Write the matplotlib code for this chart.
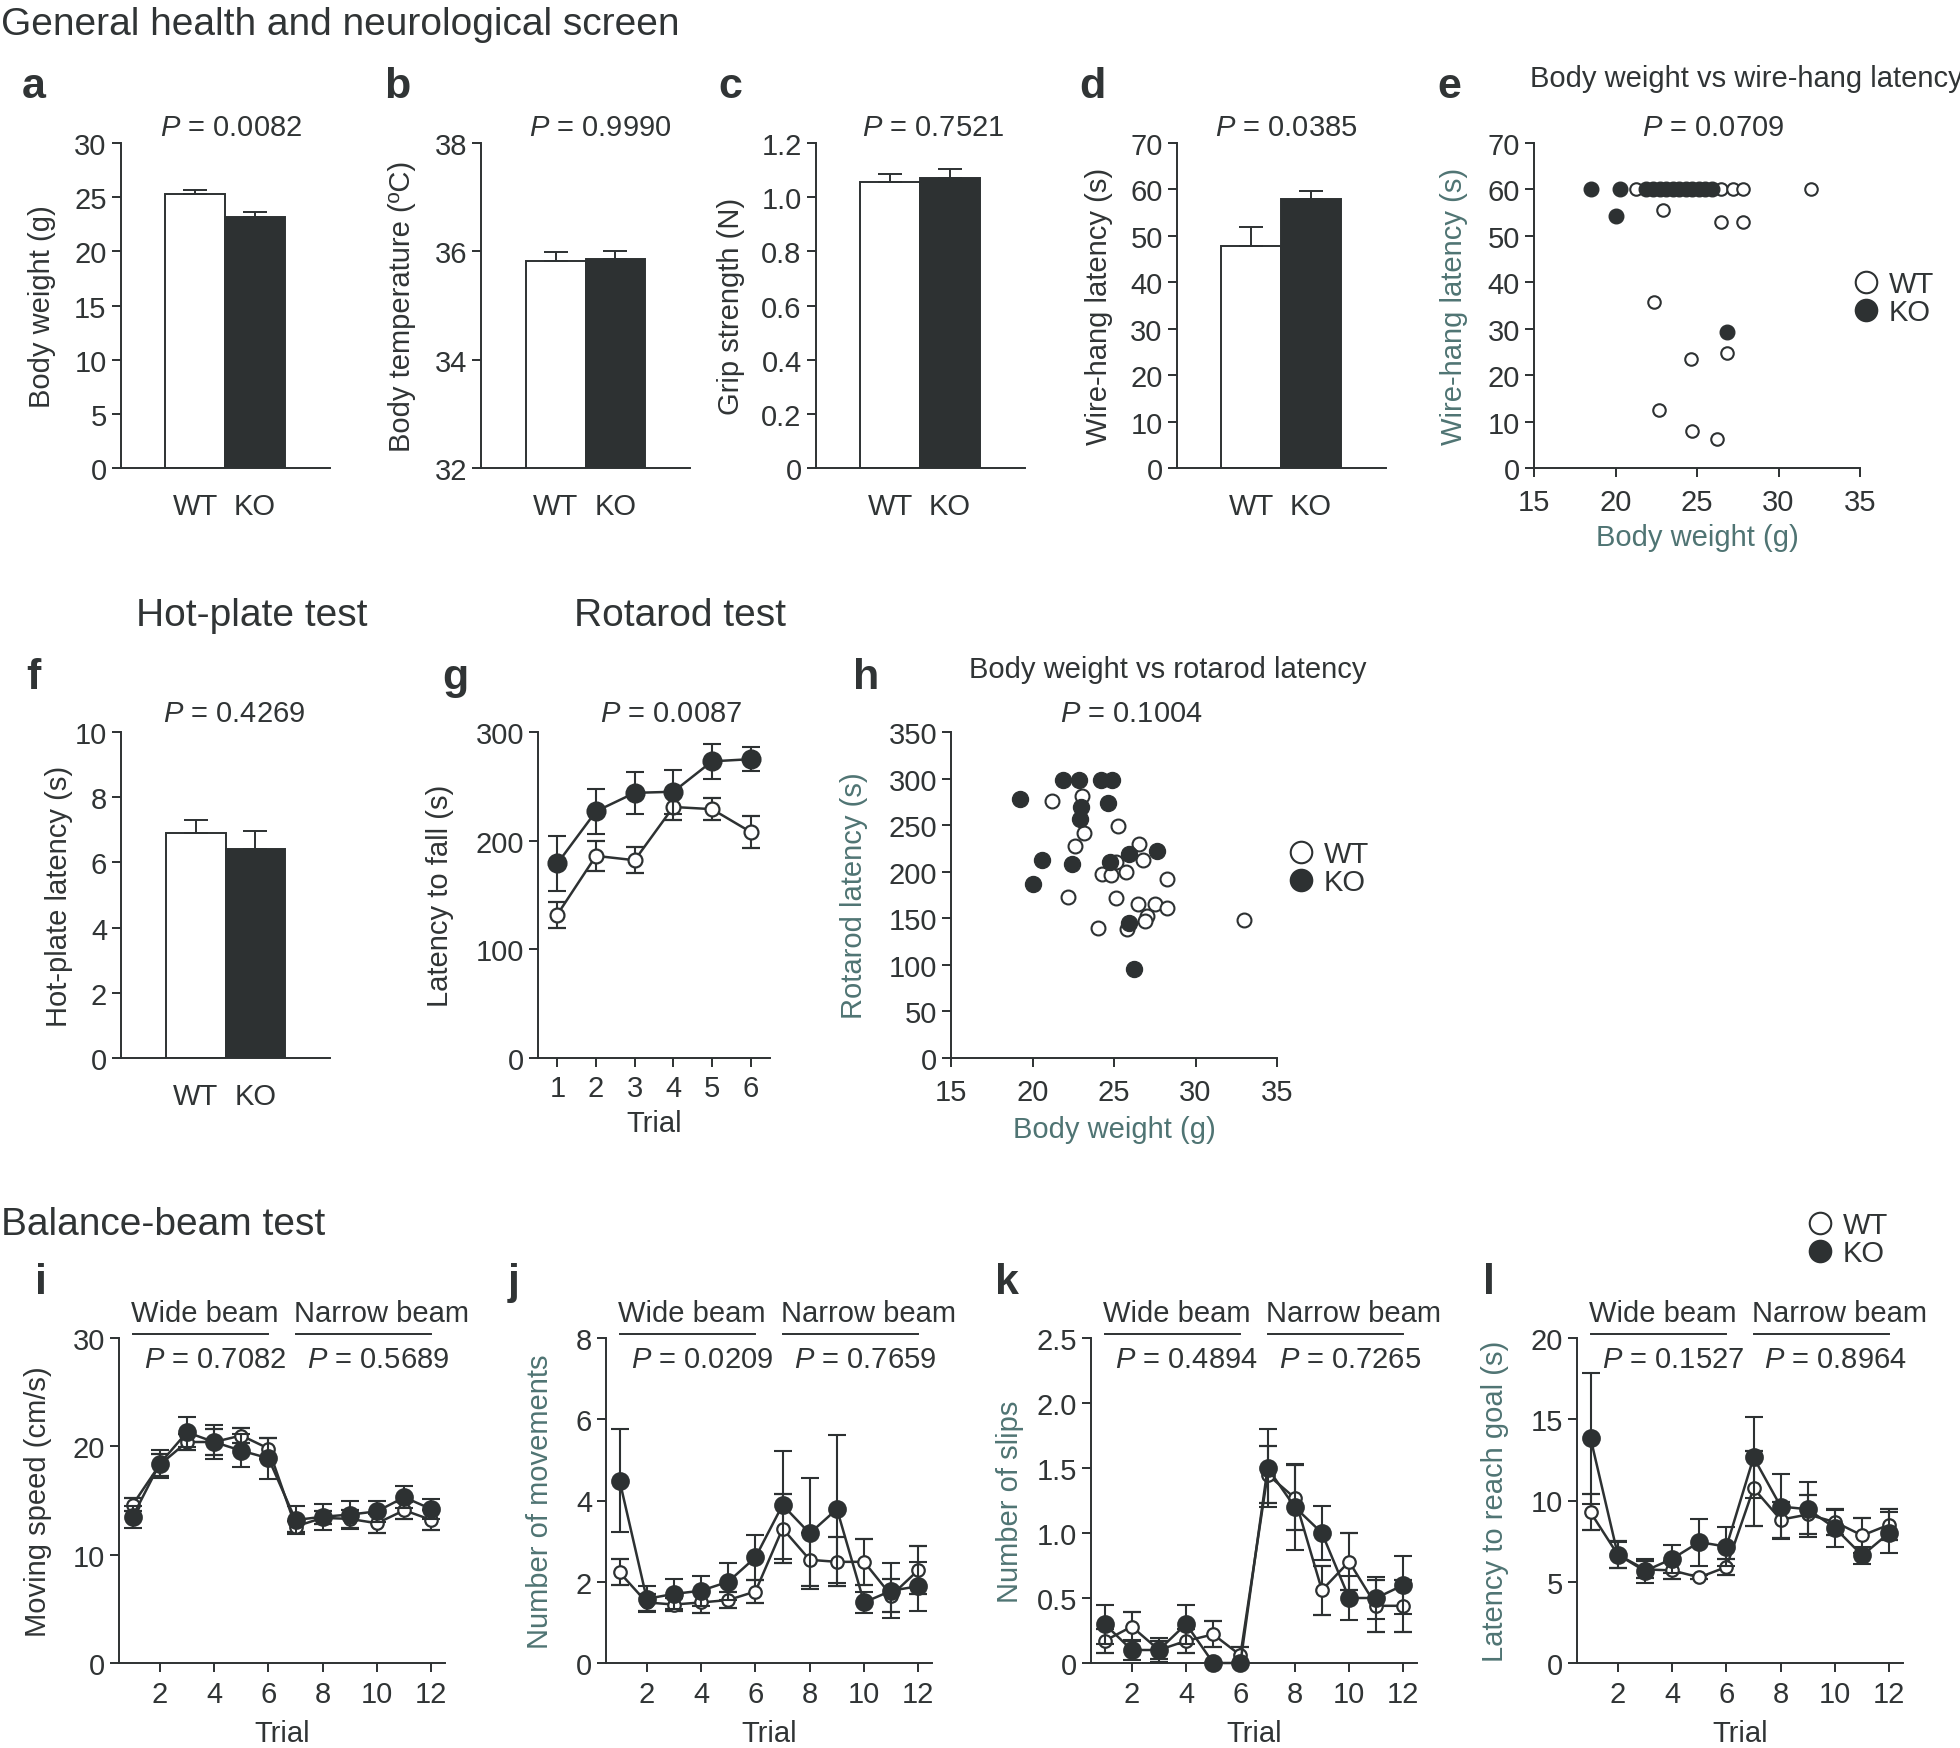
"""Multi-panel figure: general health, hot-plate, rotarod and balance-beam tests (WT vs KO)."""

import matplotlib
import numpy as np

matplotlib.use("Agg")
import matplotlib.pyplot as plt
from matplotlib.lines import Line2D

W, H = 1960, 1749
DARK = "#2d3132"
TEXT = "#303435"
TEAL = "#4f7473"
FS = 21

GROUPS = ["WT", "KO"]

# bar panels: mean and upper s.e.m. (WT, KO)
body_weight = [25.25, 23.2]
body_weight_err = [0.45, 0.45]
body_temp = [35.83, 35.86]
body_temp_err = [0.16, 0.14]
grip = [1.055, 1.07]
grip_err = [0.03, 0.035]
wire_hang = [47.9, 57.9]
wire_hang_err = [4.1, 1.7]
hot_plate = [6.9, 6.4]
hot_plate_err = [0.4, 0.55]

# body weight vs wire-hang latency (individual mice)
wt_weight_e = [21.25, 22.3, 23.5, 24.7, 26.45, 27.2, 27.85, 32.0, 22.9, 26.5, 27.85,
               22.35, 24.65, 26.85, 22.65, 24.7, 26.25]
wt_hang_e = [60, 60, 60, 60, 60, 60, 60, 60, 55.6, 52.9, 52.9, 35.7, 23.5, 24.8, 12.6, 7.9, 6.2]
ko_weight_e = [18.5, 20.3, 21.9, 22.3, 22.7, 23.1, 23.5, 23.9, 24.3, 24.7, 25.1, 25.5, 25.9,
               20.05, 26.85]
ko_hang_e = [60, 60, 60, 60, 60, 60, 60, 60, 60, 60, 60, 60, 60, 54.2, 29.3]

# rotarod
rotarod_trials = [1, 2, 3, 4, 5, 6]
rotarod_wt = [132, 186, 182, 231, 229, 208]
rotarod_wt_err = [12, 14, 12, 12, 10, 15]
rotarod_ko = [179, 227, 244, 245, 273, 275]
rotarod_ko_err = [25, 21, 19, 20, 16, 11]

# body weight vs rotarod latency
wt_weight_h = [21.18, 23.02, 23.19, 22.62, 22.2, 25.26, 26.53, 26.79, 25.14, 24.25, 24.82,
               25.73, 28.23, 25.1, 26.49, 27.49, 28.23, 27.0, 26.92, 25.79, 23.99, 32.99]
wt_rotarod_h = [276, 281, 242, 228, 173, 249, 230, 213, 210, 198, 196,
                200, 192, 172, 165, 165, 161, 152, 147, 138, 140, 148]
ko_weight_h = [19.23, 20.06, 20.61, 21.88, 22.87, 22.98, 22.92, 22.41, 24.2, 24.88, 24.63,
               24.74, 25.9, 27.63, 25.9, 26.22]
ko_rotarod_h = [278, 187, 213, 299, 299, 269, 257, 208, 299, 299, 274,
                210, 219, 222, 145, 96]

# balance beam, trials 1-6 wide beam, 7-12 narrow beam
beam_trials = list(range(1, 13))
speed_wt = [14.6, 18.3, 20.4, 20.4, 21.0, 19.8, 12.6, 13.4, 13.3, 12.9, 14.1, 13.2]
speed_wt_err = [0.6, 1.0, 0.7, 1.2, 0.7, 1.0, 0.5, 0.6, 0.8, 0.9, 0.8, 0.9]
speed_ko = [13.5, 18.4, 21.3, 20.4, 19.6, 18.9, 13.2, 13.5, 13.7, 14.0, 15.3, 14.2]
speed_ko_err = [1.0, 1.3, 1.4, 1.6, 1.5, 1.9, 1.3, 1.2, 1.3, 1.0, 1.0, 0.9]

moves_wt = [2.23, 1.49, 1.44, 1.49, 1.55, 1.76, 3.31, 2.54, 2.49, 2.49, 1.66, 2.29]
moves_wt_err = [0.32, 0.2, 0.15, 0.26, 0.2, 0.28, 0.85, 0.65, 0.6, 0.56, 0.4, 0.6]
moves_ko = [4.49, 1.58, 1.70, 1.78, 2.0, 2.6, 3.89, 3.19, 3.79, 1.49, 1.78, 1.89]
moves_ko_err = [1.27, 0.32, 0.38, 0.37, 0.46, 0.56, 1.32, 1.36, 1.83, 0.26, 0.67, 0.6]

slips_wt = [0.17, 0.28, 0.10, 0.17, 0.22, 0.06, 1.45, 1.27, 0.56, 0.78, 0.44, 0.44]
slips_wt_err = [0.09, 0.11, 0.07, 0.09, 0.1, 0.06, 0.22, 0.25, 0.19, 0.22, 0.2, 0.2]
slips_ko = [0.30, 0.10, 0.10, 0.30, 0.0, 0.0, 1.50, 1.20, 1.00, 0.50, 0.50, 0.60]
slips_ko_err = [0.15, 0.08, 0.09, 0.15, 0.0, 0.0, 0.3, 0.33, 0.21, 0.17, 0.16, 0.22]

goal_wt = [9.27, 6.67, 5.76, 5.70, 5.27, 5.91, 10.75, 8.82, 9.14, 8.67, 7.85, 8.52]
goal_wt_err = [1.1, 0.85, 0.5, 0.55, 0.12, 0.5, 2.3, 1.1, 1.2, 0.8, 1.07, 0.96]
goal_ko = [13.83, 6.67, 5.66, 6.41, 7.44, 7.16, 12.65, 9.63, 9.46, 8.3, 6.62, 8.02]
goal_ko_err = [4.04, 0.8, 0.76, 0.86, 1.44, 1.18, 2.5, 2.0, 1.68, 1.14, 0.53, 1.25]

BEAM_BLOCKS = [("Wide beam", 1, 6), ("Narrow beam", 7, 12)]

plt.rcParams["font.family"] = ["Liberation Sans", "DejaVu Sans"]
plt.rcParams["mathtext.fontset"] = "custom"
plt.rcParams["mathtext.rm"] = "Liberation Sans"
plt.rcParams["mathtext.it"] = "Liberation Sans:italic"
plt.rcParams["font.size"] = FS
plt.rcParams["text.color"] = TEXT
plt.rcParams["axes.labelcolor"] = TEXT

fig = plt.figure(figsize=(W / 100, H / 100), dpi=100)


def add_axes(x0, y0, x1, y1):
    return fig.add_axes([x0 / W, 1 - y1 / H, (x1 - x0) / W, (y1 - y0) / H])


def ftext(x, y, s, **kw):
    fig.text(x / W, 1 - y / H, s, **kw)


def style(ax, ylabel, ylabel_off, ycolor=TEXT, xpad=3.5):
    for side in ("top", "right"):
        ax.spines[side].set_visible(False)
    for side in ("left", "bottom"):
        ax.spines[side].set_linewidth(1.4)
        ax.spines[side].set_color(DARK)
    ax.tick_params(direction="out", length=6.5, width=1.4, color=DARK,
                   labelcolor=TEXT, labelsize=FS, pad=3.5)
    ax.tick_params(axis="x", pad=xpad)
    ax.set_ylabel(ylabel, color=ycolor, fontsize=FS)
    ax.yaxis.label.set_va("center")
    w_px = ax.get_position().width * W
    ax.yaxis.set_label_coords(-ylabel_off / w_px, 0.5)


def set_xlabel(ax, text, off, color=TEXT):
    ax.set_xlabel(text, color=color, fontsize=FS)
    ax.xaxis.label.set_va("center")
    h_px = ax.get_position().height * H
    ax.xaxis.set_label_coords(0.5, -off / h_px)


def bar_panel(ax, vals, errs, ylim, yticks, yticklabels, ylabel, ylabel_off):
    xs = np.arange(len(GROUPS))
    ax.bar(xs, vals, width=1.0, color=["white", DARK], edgecolor=DARK, linewidth=1.4)
    ax.errorbar(xs, vals, yerr=[[0, 0], errs], fmt="none", ecolor=DARK,
                elinewidth=1.4, capsize=8.5, capthick=1.4)
    ax.set_xlim(-1.25, 2.25)
    ax.set_ylim(*ylim)
    style(ax, ylabel, ylabel_off)
    ax.set_yticks(yticks, yticklabels)
    ax.set_xticks(xs, GROUPS)
    ax.tick_params(axis="x", length=0, pad=17.5)


def unclip(cont):
    arts = [cont.lines[0], *cont.lines[1], *cont.lines[2]]
    for art in arts:
        if art is not None:
            art.set_clip_on(False)


def line_panel(ax, x, wt, wt_err, ko, ko_err, ms_wt, ms_ko):
    c1 = ax.errorbar(x, wt, yerr=wt_err, color=DARK, lw=1.8, marker="o", ms=ms_wt,
                     mfc="white", mec=DARK, mew=1.6, capsize=6.5, capthick=1.5,
                     elinewidth=1.5, zorder=3)
    c2 = ax.errorbar(x, ko, yerr=ko_err, color=DARK, lw=1.8, marker="o", ms=ms_ko,
                     mfc=DARK, mec=DARK, mew=1.5, capsize=6.5, capthick=1.5,
                     elinewidth=1.5, zorder=4)
    unclip(c1)
    unclip(c2)


def scatter_panel(ax, wx, wy, kx, ky, ms_wt, ms_ko):
    ax.plot(wx, wy, ls="none", marker="o", ms=ms_wt, mfc="white", mec=DARK, mew=1.5,
            clip_on=False, zorder=3)
    ax.plot(kx, ky, ls="none", marker="o", ms=ms_ko, mfc=DARK, mec=DARK, mew=1.0,
            clip_on=False, zorder=4)


def group_legend(ax, x, y):
    handles = [Line2D([], [], ls="none", marker="o", ms=15.5, mfc="white", mec=DARK, mew=1.5),
               Line2D([], [], ls="none", marker="o", ms=15.5, mfc=DARK, mec=DARK, mew=1.5)]
    ax.legend(handles, GROUPS, loc="center left", bbox_to_anchor=(x / W, 1 - y / H),
              bbox_transform=fig.transFigure, frameon=False, handlelength=0.8,
              handletextpad=0.4, labelspacing=0.0, borderpad=0, borderaxespad=0,
              fontsize=FS)


def beam_labels(ax, p_values):
    tr = ax.get_xaxis_transform()
    for (name, x0, x1), p in zip(BEAM_BLOCKS, p_values):
        ax.plot([x0, x1], [1.012, 1.012], transform=tr, color=DARK, lw=1.4, clip_on=False)
        ax.text(x0 - 0.05, 1.052, name, transform=tr, ha="left", va="baseline")
        ax.text(x1 + 0.65, 0.911, f"$P$ = {p}", transform=tr, ha="right", va="baseline")


# ---- headings and panel letters
ftext(1, 35, "General health and neurological screen", fontsize=28, va="baseline")
ftext(252, 626, "Hot-plate test", fontsize=28, ha="center", va="baseline")
ftext(680, 626, "Rotarod test", fontsize=28, ha="center", va="baseline")
ftext(1, 1235, "Balance-beam test", fontsize=28, va="baseline")

for letter, x, y in [("a", 22, 98), ("b", 384, 98), ("c", 718, 98), ("d", 1079, 98),
                     ("e", 1437, 98), ("f", 26, 689), ("g", 442, 689), ("h", 853, 689),
                     ("i", 35, 1294), ("j", 508, 1294), ("k", 995, 1294), ("l", 1483, 1294)]:
    ftext(x, y, letter, fontsize=31, fontweight="bold", va="baseline")

# ---- top row
ax_a = add_axes(120.5, 144, 329.5, 469)
bar_panel(ax_a, body_weight, body_weight_err, (0, 30), range(0, 31, 5),
          [str(v) for v in range(0, 31, 5)], "Body weight (g)", 79)
ftext(231, 136, "$P$ = 0.0082", ha="center", va="baseline")

ax_b = add_axes(481, 144, 690, 469)
bar_panel(ax_b, body_temp, body_temp_err, (32, 38), [32, 34, 36, 38],
          ["32", "34", "36", "38"], "Body temperature (ºC)", 79)
ftext(600, 136, "$P$ = 0.9990", ha="center", va="baseline")

ax_c = add_axes(815.6, 144, 1024.6, 469)
bar_panel(ax_c, grip, grip_err, (0, 1.2), [0, 0.2, 0.4, 0.6, 0.8, 1.0, 1.2],
          ["0", "0.2", "0.4", "0.6", "0.8", "1.0", "1.2"], "Grip strength (N)", 85)
ftext(933, 136, "$P$ = 0.7521", ha="center", va="baseline")

ax_d = add_axes(1176.6, 144, 1385.6, 469)
bar_panel(ax_d, wire_hang, wire_hang_err, (0, 70), range(0, 71, 10),
          [str(v) for v in range(0, 71, 10)], "Wire-hang latency (s)", 78)
ftext(1286, 136, "$P$ = 0.0385", ha="center", va="baseline")

ax_e = add_axes(1534, 144, 1860, 469)
scatter_panel(ax_e, wt_weight_e, wt_hang_e, ko_weight_e, ko_hang_e, 9, 10.5)
ax_e.set_xlim(15, 35)
ax_e.set_ylim(0, 70)
style(ax_e, "Wire-hang latency (s)", 80, TEAL, xpad=8)
ax_e.set_xticks(range(15, 36, 5))
ax_e.set_yticks(range(0, 71, 10))
set_xlabel(ax_e, "Body weight (g)", 69, TEAL)
ftext(1746, 87, "Body weight vs wire-hang latency", ha="center", va="baseline")
ftext(1713, 136, "$P$ = 0.0709", ha="center", va="baseline")
group_legend(ax_e, 1854, 299)

# ---- middle row
ax_f = add_axes(121, 733, 330, 1059)
bar_panel(ax_f, hot_plate, hot_plate_err, (0, 10), range(0, 11, 2),
          [str(v) for v in range(0, 11, 2)], "Hot-plate latency (s)", 62)
ftext(234, 722, "$P$ = 0.4269", ha="center", va="baseline")

ax_g = add_axes(538, 733, 770, 1059)
line_panel(ax_g, rotarod_trials, rotarod_wt, rotarod_wt_err, rotarod_ko, rotarod_ko_err, 10, 13)
ax_g.set_xlim(0.5, 6.5)
ax_g.set_ylim(0, 300)
style(ax_g, "Latency to fall (s)", 98, xpad=5)
ax_g.set_xticks(rotarod_trials)
ax_g.set_yticks([0, 100, 200, 300])
set_xlabel(ax_g, "Trial", 65)
ftext(671, 722, "$P$ = 0.0087", ha="center", va="baseline")

ax_h = add_axes(951, 733, 1277, 1059)
scatter_panel(ax_h, wt_weight_h, wt_rotarod_h, ko_weight_h, ko_rotarod_h, 10, 11.5)
ax_h.set_xlim(15, 35)
ax_h.set_ylim(0, 350)
style(ax_h, "Rotarod latency (s)", 97, TEAL, xpad=8)
ax_h.set_xticks(range(15, 36, 5))
ax_h.set_yticks(range(0, 351, 50))
set_xlabel(ax_h, "Body weight (g)", 71, TEAL)
ftext(1168, 678, "Body weight vs rotarod latency", ha="center", va="baseline")
ftext(1131, 722, "$P$ = 0.1004", ha="center", va="baseline")
group_legend(ax_h, 1289, 869)

# ---- balance beam row
beam_panels = [
    (119, speed_wt, speed_wt_err, speed_ko, speed_ko_err, (0, 30), [0, 10, 20, 30],
     ["0", "10", "20", "30"], "Moving speed (cm/s)", 81, TEXT, ["0.7082", "0.5689"]),
    (606, moves_wt, moves_wt_err, moves_ko, moves_ko_err, (0, 8), [0, 2, 4, 6, 8],
     ["0", "2", "4", "6", "8"], "Number of movements", 66, TEAL, ["0.0209", "0.7659"]),
    (1091, slips_wt, slips_wt_err, slips_ko, slips_ko_err, (0, 2.5),
     [0, 0.5, 1.0, 1.5, 2.0, 2.5], ["0", "0.5", "1.0", "1.5", "2.0", "2.5"],
     "Number of slips", 81, TEAL, ["0.4894", "0.7265"]),
    (1577, goal_wt, goal_wt_err, goal_ko, goal_ko_err, (0, 20), [0, 5, 10, 15, 20],
     ["0", "5", "10", "15", "20"], "Latency to reach goal (s)", 82, TEAL, ["0.1527", "0.8964"]),
]
for (x0, wt, wt_err, ko, ko_err, ylim, yt, ytl, ylab, yoff, ycol, pvals) in beam_panels:
    ax = add_axes(x0, 1339, x0 + 326, 1664)
    line_panel(ax, beam_trials, wt, wt_err, ko, ko_err, 9, 12)
    ax.set_xlim(0.5, 12.5)
    ax.set_ylim(*ylim)
    style(ax, ylab, yoff, ycol, xpad=5.5)
    ax.set_xticks(range(2, 13, 2))
    ax.set_yticks(yt, ytl)
    set_xlabel(ax, "Trial", 70)
    beam_labels(ax, pvals)
    last_ax = ax

group_legend(last_ax, 1808, 1240)

fig.savefig("out.png", dpi=100)
